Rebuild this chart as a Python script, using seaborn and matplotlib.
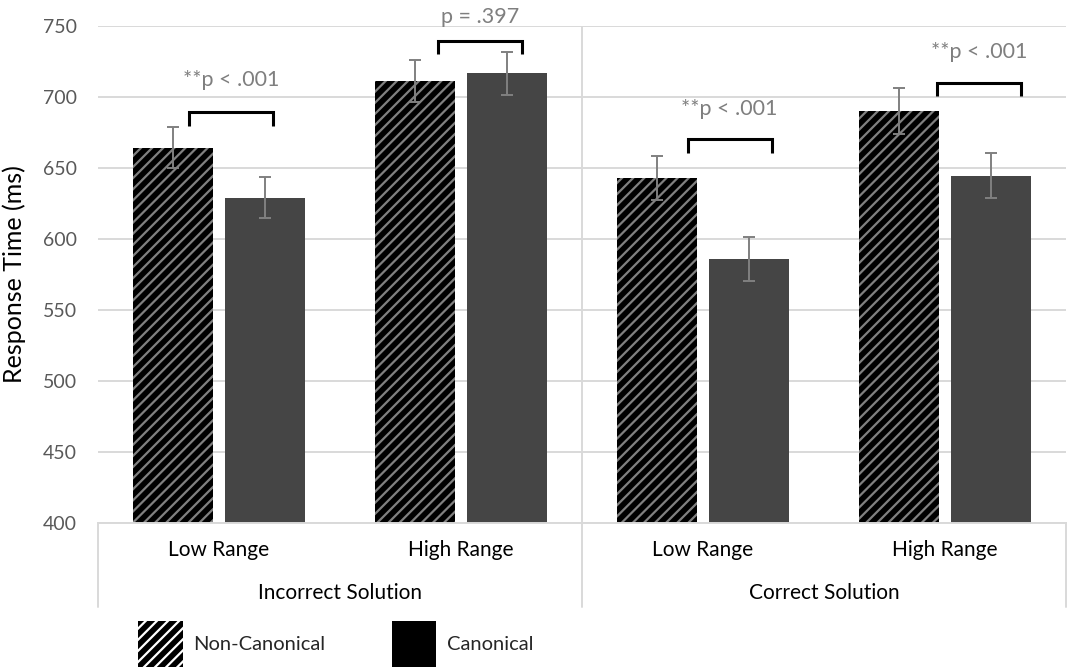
import numpy as np
import pandas as pd
import matplotlib
matplotlib.use("Agg")
import matplotlib.pyplot as plt
import seaborn as sns
from matplotlib.patches import Patch
from matplotlib.transforms import blended_transform_factory

# ---------------- data ----------------
solutions = ["Incorrect Solution", "Correct Solution"]
ranges = ["Low Range", "High Range"]
conditions = ["Non-Canonical", "Canonical"]
noncanonical_rt = [664, 711, 643, 690]
canonical_rt = [629, 716.5, 585.5, 644.5]
noncanonical_err = [14.5, 14.5, 15.5, 16]
canonical_err = [14.5, 15, 15.5, 16]
p_labels = ["**p < .001", "p = .397", "**p < .001", "**p < .001"]
bracket_top = [689, 739.5, 670, 710]
p_label_y = [712, 756, 691, 731.5]
yticks = [400, 450, 500, 550, 600, 650, 700, 750]

# ---------------- layout / style ----------------
bracket_shift = [0.05, 0.08, 0.11, 0.14]   # category units
bracket_half = 0.174
bracket_drop = 9.5
GRID = "#d9d9d9"
FS = 15

cells = [f"{s}|{r}" for s in solutions for r in ranges]
rows = []
for i, c in enumerate(cells):
    rows.append({"cell": c, "condition": conditions[0], "rt": noncanonical_rt[i]})
    rows.append({"cell": c, "condition": conditions[1], "rt": canonical_rt[i]})
df = pd.DataFrame(rows)

sns.set_theme(style="white")
plt.rcParams["font.family"] = ["Lato", "DejaVu Sans"]
plt.rcParams["hatch.linewidth"] = 1.6

fig = plt.figure(figsize=(10.73, 6.69), dpi=100)
ax = fig.add_axes([98 / 1073, (669 - 522.7) / 669, (1066 - 98) / 1073, 497 / 669])

sns.barplot(data=df, x="cell", y="rt", hue="condition", order=cells,
            hue_order=conditions, palette=["black", "#454545"],
            width=0.76, gap=0.12, errorbar=None, saturation=1,
            legend=False, ax=ax)

nc_bars = ax.containers[0]
c_bars = ax.containers[1]
for b in nc_bars:
    b.set_hatch("///")
    b.set_edgecolor("#808080")
    b.set_linewidth(0)
for b in c_bars:
    b.set_linewidth(0)

nc_x = [b.get_x() + b.get_width() / 2 for b in nc_bars]
c_x = [b.get_x() + b.get_width() / 2 for b in c_bars]
ax.errorbar(nc_x, noncanonical_rt, yerr=noncanonical_err, fmt="none",
            ecolor="#808080", elinewidth=1.4, capsize=4, capthick=1.4, zorder=5)
ax.errorbar(c_x, canonical_rt, yerr=canonical_err, fmt="none",
            ecolor="#808080", elinewidth=1.4, capsize=4, capthick=1.4, zorder=5)

# significance brackets
for i in range(len(cells)):
    mid = (nc_x[i] + c_x[i]) / 2 + bracket_shift[i]
    l, r = mid - bracket_half, mid + bracket_half
    y = bracket_top[i]
    ax.plot([l, l, r, r], [y - bracket_drop, y, y, y - bracket_drop],
            color="black", lw=2.2, clip_on=False, solid_joinstyle="miter",
            solid_capstyle="butt", zorder=6)
    ax.text(mid, p_label_y[i], p_labels[i], ha="center", va="center",
            color="#7f7f7f", fontsize=15.5, clip_on=False)

# axes styling
ax.set_ylim(400, 750)
ax.set_xlim(-0.5, len(cells) - 0.5)
ax.set_yticks(yticks)
ax.set_yticklabels([str(t) for t in yticks])
ax.tick_params(axis="y", length=0, pad=15, labelsize=14, labelcolor="#595959")
ax.set_xticks([])
ax.set_xlabel("")
ax.set_ylabel("Response Time (ms)", color="black", labelpad=12)
ax.yaxis.label.set_fontsize(18)
ax.yaxis.grid(True, color=GRID, lw=1.4)
ax.set_axisbelow(True)
for s in ["top", "right", "left"]:
    ax.spines[s].set_visible(False)
ax.spines["bottom"].set_color(GRID)
ax.spines["bottom"].set_linewidth(1.4)

# group separator inside the plot
ax.plot([1.5, 1.5], [400, 750], color=GRID, lw=1.4, zorder=0.5)

# multi-level category axis
trans = blended_transform_factory(ax.transData, ax.transAxes)
for xv in [-0.5, 1.5, 3.5]:
    ax.plot([xv, xv], [0, -0.169], color=GRID, lw=1.4, transform=trans,
            clip_on=False)
for i, c in enumerate(cells):
    ax.text(i, -0.055, c.split("|")[1], transform=trans, ha="center",
            va="center", fontsize=FS, color="black")
for j, s in enumerate(solutions):
    ax.text(2 * j + 0.5, -0.142, s, transform=trans, ha="center",
            va="center", fontsize=FS, color="black")

# legend
handles = [Patch(facecolor="black", edgecolor="white", hatch="///", lw=0),
           Patch(facecolor="black", edgecolor="black", lw=0)]
fig.legend(handles=handles, labels=conditions, loc="upper left",
           bbox_to_anchor=(138 / 1073, 1 - 621 / 669), ncol=2, frameon=False,
           fontsize=14.5, handlelength=2.23, handleheight=3.13,
           handletextpad=0.5, columnspacing=3.3, borderpad=0,
           borderaxespad=0)

fig.savefig("out.png", dpi=100)
